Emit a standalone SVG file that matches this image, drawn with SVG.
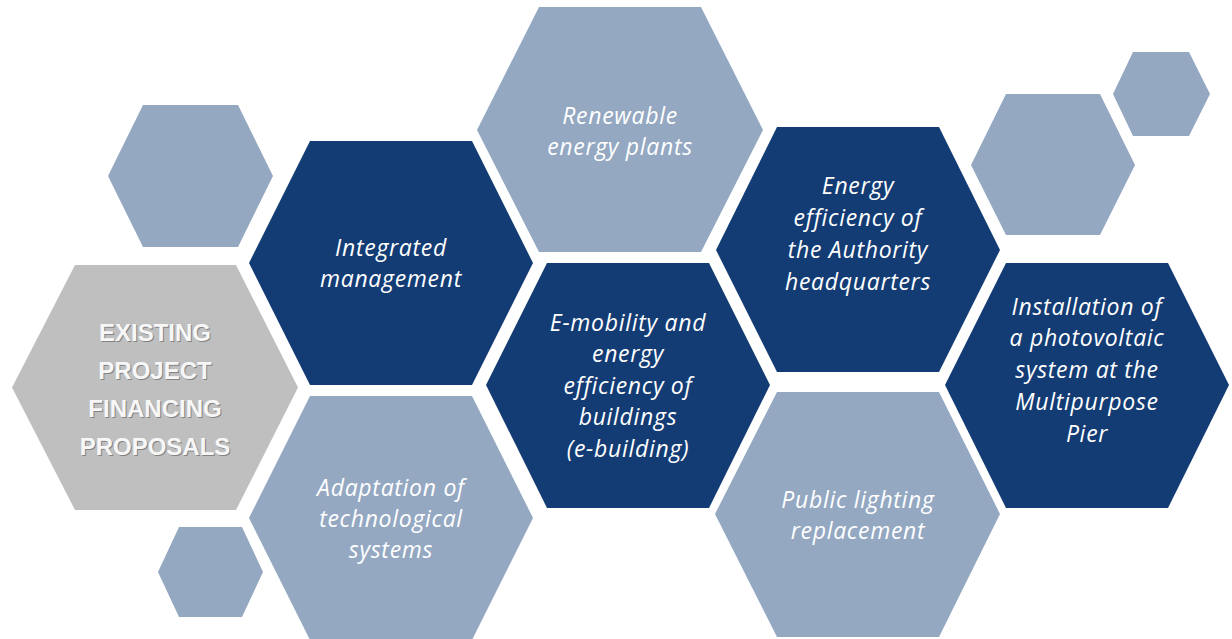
<svg xmlns="http://www.w3.org/2000/svg" width="1232" height="639" viewBox="0 0 1232 639">
<defs>
<style>
.dark{fill:#133C74}
.light{fill:#94A8C2}
.gray{fill:#BFBFBF}
.t{font-family:"Open Sans","Liberation Sans",sans-serif;font-style:italic;font-size:23px;letter-spacing:0.7px;fill:#FFFFFF;text-anchor:middle}
.g{font-family:"Liberation Sans","Open Sans",sans-serif;font-weight:bold;font-size:24px;fill:#F7F7F7;text-anchor:middle}
.gs{font-family:"Liberation Sans","Open Sans",sans-serif;font-weight:bold;font-size:24px;fill:#6F6F6F;text-anchor:middle;opacity:0.75}
</style>
</defs>
<rect width="1232" height="639" fill="#FFFFFF"/>
<g id="deco-left-top"><polygon class="light" points="108,176 143,105 238,105 273,176 238,247 143,247"/></g>
<g id="deco-left-bottom"><polygon class="light" points="158,572 179,527 242,527 263,572 242,617 179,617"/></g>
<g id="deco-right-medium"><polygon class="light" points="971,165 1006,94 1100,94 1135,165 1100,235 1006,235"/></g>
<g id="deco-right-small"><polygon class="light" points="1113,94 1133,52 1189,52 1210,94 1189,136 1133,136"/></g>

<g id="existing">
<polygon class="gray" points="12,387.5 75,265 236,265 298,387.5 236,510 75,510"/>
<text class="gs" x="156" y="342">EXISTING</text>
<text class="gs" x="156" y="380">PROJECT</text>
<text class="gs" x="156" y="418">FINANCING</text>
<text class="gs" x="156" y="456">PROPOSALS</text>
<text class="g" x="155" y="341">EXISTING</text>
<text class="g" x="155" y="379">PROJECT</text>
<text class="g" x="155" y="417">FINANCING</text>
<text class="g" x="155" y="455">PROPOSALS</text>
</g>

<g id="integrated">
<polygon class="dark" points="249,263 310,141 472,141 533,263 472,385 310,385"/>
<text class="t" x="391" y="256">Integrated</text>
<text class="t" x="391" y="287">management</text>
</g>

<g id="renewable">
<polygon class="light" points="477,130 539,7 701,7 763,130 701,252 539,252"/>
<text class="t" x="620" y="124">Renewable</text>
<text class="t" x="620" y="155">energy plants</text>
</g>

<g id="emobility">
<polygon class="dark" points="486,385 547,263 709,263 770,385 709,508 547,508"/>
<text class="t" x="628" y="331">E-mobility and</text>
<text class="t" x="628" y="362">energy</text>
<text class="t" x="628" y="394">efficiency of</text>
<text class="t" x="628" y="425">buildings</text>
<text class="t" x="628" y="457">(e-building)</text>
</g>

<g id="authority">
<polygon class="dark" points="716,250 777,127 939,127 1000,250 939,372 777,372"/>
<text class="t" x="858" y="194">Energy</text>
<text class="t" x="858" y="226">efficiency of</text>
<text class="t" x="858" y="258">the Authority</text>
<text class="t" x="858" y="290">headquarters</text>
</g>

<g id="photovoltaic">
<polygon class="dark" points="945,385 1006,263 1168,263 1229,385 1168,508 1006,508"/>
<text class="t" x="1087" y="315">Installation of</text>
<text class="t" x="1087" y="346">a photovoltaic</text>
<text class="t" x="1087" y="378">system at the</text>
<text class="t" x="1087" y="410">Multipurpose</text>
<text class="t" x="1087" y="442">Pier</text>
</g>

<g id="lighting">
<polygon class="light" points="715,514 777,392 939,392 1000,514 939,637 777,637"/>
<text class="t" x="858" y="508">Public lighting</text>
<text class="t" x="858" y="539">replacement</text>
</g>

<g id="adaptation">
<polygon class="light" points="249,518 310,396 472,396 533,518 472,640 310,640"/>
<text class="t" x="391" y="496">Adaptation of</text>
<text class="t" x="391" y="527">technological</text>
<text class="t" x="391" y="558">systems</text>
</g>

<g id="connectors"></g>
</svg>
